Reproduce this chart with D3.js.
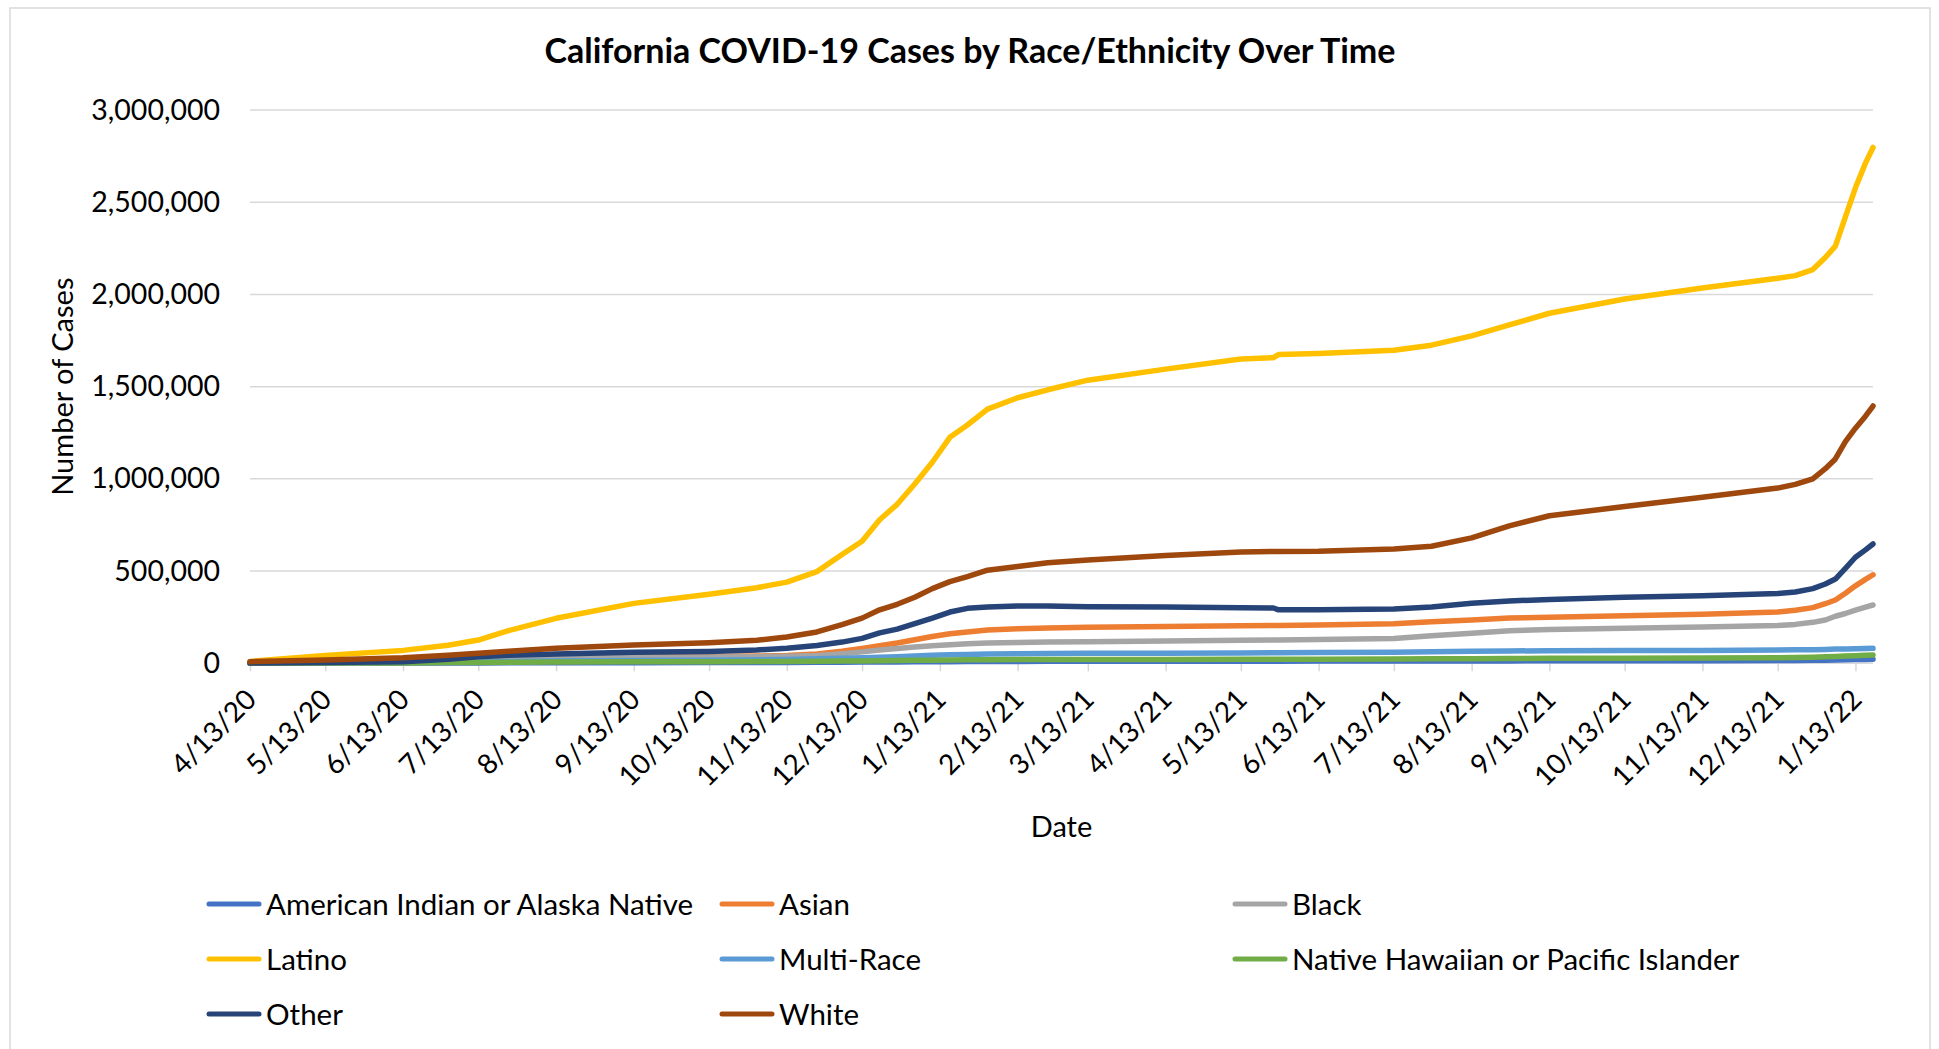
<!DOCTYPE html>
<html><head><meta charset="utf-8">
<script src="https://cdn.jsdelivr.net/npm/d3@7"></script>
<style>html,body{margin:0;padding:0;background:#fff;} svg{display:block;font-family:Lato,sans-serif;}</style>
</head><body><svg id="chart" width="1939" height="1049"></svg>
<script>
const dates = ["4/13/20","5/13/20","6/13/20","7/1/20","7/13/20","7/25/20","8/13/20","9/13/20","10/13/20","11/1/20",
  "11/13/20","11/25/20","12/5/20","12/13/20","12/20/20","12/27/20","1/3/21","1/10/21","1/17/21","1/24/21",
  "2/1/21","2/13/21","2/25/21","3/13/21","4/13/21","5/13/21","5/26/21","5/28/21","6/13/21","7/13/21",
  "7/28/21","8/13/21","8/28/21","9/13/21","10/13/21","11/13/21","12/13/21","12/20/21","12/27/21","1/1/22",
  "1/5/22","1/9/22","1/13/22","1/17/22","1/20/22"];

const seriesNames = ["American Indian or Alaska Native","Asian","Black","Latino","Multi-Race","Native Hawaiian or Pacific Islander","Other","White"];
const seriesColors = ["#4472C4","#ED7D31","#A5A5A5","#FFC000","#5B9BD5","#70AD47","#264478","#9E480E"];

const aian = [0,500,1000,1500,2000,2500,3000,3500,4000,4500,
  5000,5500,6000,6500,7000,7500,8000,8500,9000,9500,
  10000,10000,10500,11000,11000,11500,11500,11500,12000,12000,
  12500,13000,13000,13500,14000,14000,15000,15500,16000,17000,
  18000,19000,20000,21000,22000];
const asian = [1000,4000,10000,16000,22000,27000,32000,36000,37000,39000,
  42000,50000,65000,80000,95000,110000,128000,145000,160000,170000,
  180000,187000,192000,196000,200000,203000,205000,205000,207000,214000,
  225000,235000,245000,250000,258000,266000,278000,288000,302000,323000,
  343000,380000,420000,455000,480000];
const black = [1000,3000,7000,12000,17000,22000,28000,32000,34000,36000,
  38000,42000,52000,62000,72000,80000,88000,95000,101000,106000,
  110000,113000,115000,117000,121000,125000,127000,127000,129000,135000,
  150000,163000,176000,183000,190000,197000,205000,211000,222000,235000,
  255000,270000,288000,305000,316000];
const latino = [10000,43000,70000,98000,126000,177000,244000,325000,374000,410000,
  440000,497000,590000,662000,778000,862000,972000,1090000,1225000,1292000,
  1378000,1440000,1483000,1535000,1595000,1650000,1657000,1674000,1680000,1697000,
  1725000,1775000,1835000,1898000,1975000,2035000,2088000,2102000,2135000,2200000,
  2262000,2420000,2578000,2712000,2797000];
const multiRace = [500,2000,4000,6000,8000,10000,12000,15000,17000,19000,
  21000,24000,27000,30000,33000,36000,40000,43000,46000,48000,
  50000,52000,53000,54000,55000,56000,57000,57000,58000,60000,
  62000,65000,67000,68000,69000,70000,72000,73000,74000,75000,
  77000,78000,79000,80000,81000];
const nhpi = [500,1000,2000,4000,5000,6000,7000,8000,9000,10000,
  10000,11000,12000,13000,14000,15000,16000,17000,18000,19000,
  19000,20000,20000,21000,21000,22000,22000,22000,22000,23000,
  24000,25000,26000,27000,28000,29000,30000,31000,33000,35000,
  37000,39000,41000,43000,45000];
const other = [2000,5000,9000,22000,36000,44000,50000,60000,64000,72000,
  82000,97000,115000,135000,165000,185000,215000,245000,278000,298000,
  305000,311000,311000,306000,305000,301000,300000,290000,290000,294000,
  305000,325000,338000,346000,358000,366000,378000,387000,405000,430000,
  457000,515000,575000,615000,647000];
const white = [9000,18000,30000,44000,54000,65000,81000,99000,112000,125000,
  143000,170000,210000,245000,290000,320000,358000,405000,443000,470000,
  505000,525000,545000,560000,585000,603000,606000,606000,607000,620000,
  635000,680000,745000,800000,850000,900000,950000,970000,1000000,1055000,
  1108000,1202000,1275000,1340000,1395000];

const seriesValues = [aian, asian, black, latino, multiRace, nhpi, other, white];

const xTickLabels = ["4/13/20","5/13/20","6/13/20","7/13/20","8/13/20","9/13/20","10/13/20","11/13/20","12/13/20",
  "1/13/21","2/13/21","3/13/21","4/13/21","5/13/21","6/13/21","7/13/21","8/13/21","9/13/21","10/13/21","11/13/21","12/13/21","1/13/22"];
const yTickValues = [0,500000,1000000,1500000,2000000,2500000,3000000];

const chartTitle = "California COVID-19 Cases by Race/Ethnicity Over Time";
const xTitle = "Date";
const yTitle = "Number of Cases";

const parse = d3.timeParse("%m/%d/%y");
const svg = d3.select("#chart");
const W = 1939, H = 1049;
const plot = {left: 250, right: 1873, top: 110, bottom: 663.3};

svg.append("rect").attr("width", W).attr("height", H).attr("fill", "#fff");
svg.append("rect").attr("x", 10).attr("y", 8).attr("width", 1920).attr("height", 1080)
  .attr("fill", "none").attr("stroke", "#D9D9D9").attr("stroke-width", 1.5);

const x = d3.scaleTime()
  .domain([parse(dates[0]), parse(dates[dates.length - 1])])
  .range([plot.left, plot.right]);
const y = d3.scaleLinear().domain([0, 3000000]).range([plot.bottom, plot.top]);

// gridlines + y labels
const yAxis = d3.axisLeft(y).tickValues(yTickValues).tickFormat(d3.format(",")).tickSize(0).tickPadding(30);
const gy = svg.append("g").attr("transform", `translate(${plot.left},0)`).call(yAxis);
gy.select(".domain").remove();
gy.selectAll("text").attr("font-size", 28.5).attr("fill", "#000").attr("font-family", "Lato, sans-serif");
svg.append("g").selectAll("line").data(yTickValues.filter(v => v > 0)).join("line")
  .attr("x1", plot.left).attr("x2", plot.right)
  .attr("y1", d => y(d)).attr("y2", d => y(d))
  .attr("stroke", "#D9D9D9").attr("stroke-width", 1.5);

// x axis
const tickDates = xTickLabels.map(parse);
const xAxis = d3.axisBottom(x).tickValues(tickDates).tickSize(8).tickFormat("");
const gx = svg.append("g").attr("transform", `translate(0,${plot.bottom})`).call(xAxis);
gx.select(".domain").attr("stroke", "#D9D9D9").attr("stroke-width", 1.5)
  .attr("d", `M${plot.left},0H${plot.right}`);
gx.selectAll(".tick line").attr("stroke", "#D9D9D9").attr("stroke-width", 1.5);
svg.append("g").selectAll("text").data(xTickLabels).join("text")
  .attr("transform", d => `translate(${x(parse(d)) + 8},${plot.bottom + 38}) rotate(-45)`)
  .attr("text-anchor", "end")
  .attr("font-size", 28).attr("fill", "#000")
  .text(d => d);

// lines
const line = d3.line().x((d, i) => x(parse(dates[i]))).y(d => y(d));
svg.append("g").selectAll("path").data(seriesValues).join("path")
  .attr("d", d => line(d))
  .attr("fill", "none")
  .attr("stroke", (d, i) => seriesColors[i])
  .attr("stroke-width", 5.5)
  .attr("stroke-linejoin", "round")
  .attr("stroke-linecap", "round");

// titles
svg.append("text").attr("x", 970).attr("y", 63).attr("text-anchor", "middle")
  .attr("font-size", 34).attr("font-weight", "bold").attr("fill", "#000").text(chartTitle);
svg.append("text").attr("x", (plot.left + plot.right) / 2).attr("y", 837).attr("text-anchor", "middle")
  .attr("font-size", 29).attr("fill", "#000").text(xTitle);
svg.append("text").attr("transform", `translate(73,${(plot.top + plot.bottom) / 2}) rotate(-90)`)
  .attr("text-anchor", "middle").attr("font-size", 29).attr("fill", "#000").text(yTitle);

// legend
const legCols = [207, 720, 1233];
const legRows = [904, 959, 1014];
const leg = svg.append("g").selectAll("g").data(seriesNames).join("g")
  .attr("transform", (d, i) => `translate(${legCols[i % 3]},${legRows[Math.floor(i / 3)]})`);
leg.append("line").attr("x1", 2).attr("x2", 52).attr("y1", 0).attr("y2", 0)
  .attr("stroke", (d, i) => seriesColors[i]).attr("stroke-width", 5).attr("stroke-linecap", "round");
leg.append("text").attr("x", 59).attr("y", 10.5).attr("font-size", 29.5).attr("fill", "#000").text(d => d);
</script></body></html>
